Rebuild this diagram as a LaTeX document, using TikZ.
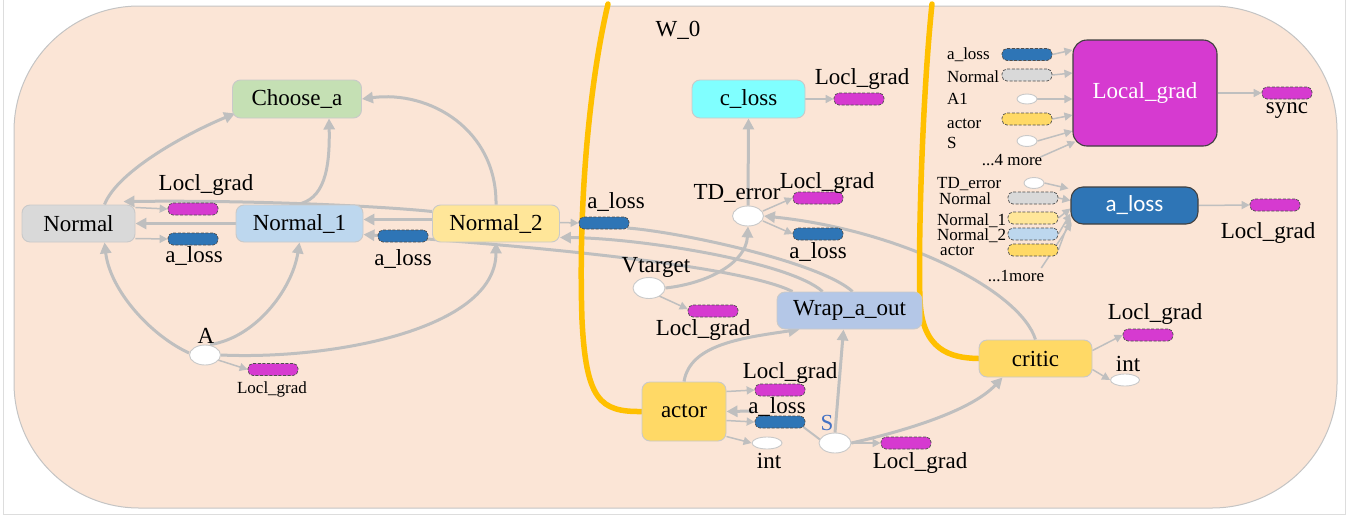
\documentclass[tikz,border=0pt]{standalone}
\usepackage{fontspec}
\setmainfont{Liberation Serif}
\newfontfamily\carlitofont{Carlito}
\usetikzlibrary{arrows.meta,shapes.geometric,calc}
\definecolor{clusterbg}{HTML}{FBE5D6}
\definecolor{frameg}{HTML}{DDDDDD}
\definecolor{clusterline}{HTML}{C4C4C4}
\definecolor{nodeline}{HTML}{C9C9C9}
\definecolor{darkline}{HTML}{404040}
\definecolor{pillline}{HTML}{4D4D4D}
\definecolor{conncol}{HTML}{BFBFBF}
\definecolor{cgreen}{HTML}{C5E0B4}
\definecolor{cgray}{HTML}{D9D9D9}
\definecolor{clightblue}{HTML}{BDD7EE}
\definecolor{clightyellow}{HTML}{FFE699}
\definecolor{ccyan}{HTML}{80FFFF}
\definecolor{cwrap}{HTML}{B4C7E7}
\definecolor{cgold}{HTML}{FFD966}
\definecolor{cmagenta}{HTML}{D63AD0}
\definecolor{cblue}{HTML}{2E75B6}
\definecolor{cyellowline}{HTML}{FFC000}
\definecolor{sblue}{HTML}{4472C4}
\newcommand\myBig{\fontsize{23}{26}\selectfont}
\newcommand\mySmall{\fontsize{17}{19}\selectfont}
\pgfdeclarelayer{bglayer}
\pgfdeclarelayer{midlayer}
\pgfsetlayers{bglayer,midlayer,main}
\tikzset{
  box/.style={draw=nodeline, line width=0.9pt, rounded corners=8pt, inner sep=0pt, font=\myBig},
  darkbox/.style={draw=darkline, line width=1.1pt, rounded corners=12pt, inner sep=0pt, font=\myBig, text=white},
  pill/.style={draw=pillline, line width=0.7pt, dash pattern=on 3pt off 1.6pt, rounded corners=5pt, minimum width=50pt, minimum height=12pt, inner sep=0pt},
  oval/.style={ellipse, draw=nodeline, line width=0.9pt, fill=white, inner sep=0pt},
  lbl/.style={inner sep=0pt, font=\myBig},
  lbls/.style={inner sep=0pt, font=\mySmall},
  conn/.style={draw=conncol, line width=3pt, -{Triangle[length=11pt,width=11pt]}},
  thinconn/.style={draw=conncol, line width=1.5pt, -{Triangle[length=8pt,width=8pt]}},
  plainconn/.style={draw=conncol, line width=2pt},
  yline/.style={draw=cyellowline, line width=5.5pt, line cap=round},
}
\begin{document}
\begin{tikzpicture}[x=1pt,y=-1pt]
\useasboundingbox (0,0) rectangle (1352,517);
% ---------- main nodes ----------
\node[box, fill=cgreen, minimum width=129pt, minimum height=38pt] (choose) at (297,99) {Choose\_a};
\node[box, fill=cgray, minimum width=113pt, minimum height=37pt] (normal) at (78.5,223.5) {Normal};
\node[box, fill=clightblue, minimum width=127pt, minimum height=37pt] (normal1) at (299.5,223.5) {Normal\_1};
\node[box, fill=clightyellow, minimum width=127pt, minimum height=37pt] (normal2) at (496,223.5) {Normal\_2};
\node[box, fill=ccyan, minimum width=113pt, minimum height=38pt] (closs) at (748.5,99) {c\_loss};
\node[box, fill=cwrap, minimum width=145pt, minimum height=37pt] (wrap) at (849.5,310.5) {Wrap\_a\_out};
\node[box, fill=cgold, minimum width=84pt, minimum height=59pt] (actor) at (684,411.5) {actor};
\node[box, fill=cgold, minimum width=113pt, minimum height=37pt] (critic) at (1035.5,358.5) {critic};
\node[darkbox, fill=cmagenta, minimum width=144pt, minimum height=106pt, rounded corners=14pt] (localgrad) at (1145,93) {Local\_grad};
\node[darkbox, fill=cblue, minimum width=127pt, minimum height=37pt, font=\carlitofont\myBig] (alossbig) at (1134.5,205.5) {a\_loss};
% ---------- ellipses ----------
\node[oval, minimum width=31pt, minimum height=20pt] (td) at (748,216) {};
\node[oval, minimum width=32pt, minimum height=21pt] (vtarget) at (649,288) {};
\node[oval, minimum width=31pt, minimum height=20pt] (A) at (205,355) {};
\node[oval, minimum width=32pt, minimum height=20pt] (S) at (835,443) {};
\node[oval, minimum width=30pt, minimum height=12pt] (int1) at (767,443) {};
\node[oval, minimum width=29pt, minimum height=12pt] (int2) at (1125,380) {};
\node[oval, minimum width=20pt, minimum height=10pt] (li3) at (1027,99) {};
\node[oval, minimum width=20pt, minimum height=11pt] (li5) at (1027,141) {};
\node[oval, minimum width=20pt, minimum height=11pt] (ai1) at (1034,183) {};
% ---------- pills ----------
\node[pill, fill=cmagenta] (p1) at (193,209) {};
\node[pill, fill=cblue] (p2) at (193,239) {};
\node[pill, fill=cblue] (p3) at (403,236) {};
\node[pill, fill=cblue] (p4) at (604,223) {};
\node[pill, fill=cmagenta] (p5) at (818,198) {};
\node[pill, fill=cblue] (p6) at (818,234) {};
\node[pill, fill=cmagenta] (p7) at (859,99) {};
\node[pill, fill=cmagenta] (p8) at (713,311) {};
\node[pill, fill=cmagenta] (p9) at (273,369.5) {};
\node[pill, fill=cmagenta] (p10) at (780,390) {};
\node[pill, fill=cblue] (p11) at (780,422) {};
\node[pill, fill=cmagenta] (p12) at (906,443) {};
\node[pill, fill=cmagenta] (p13) at (1148,335) {};
\node[pill, fill=cmagenta] (p14) at (1287,93) {};
\node[pill, fill=cmagenta] (p15) at (1275,205) {};
\node[pill, fill=cblue] (li1) at (1027,54.5) {};
\node[pill, fill=cgray] (li2) at (1027,75) {};
\node[pill, fill=cgold] (li4) at (1027,119) {};
\node[pill, fill=cgray] (ai2) at (1033,198) {};
\node[pill, fill=clightyellow] (ai3) at (1033,218) {};
\node[pill, fill=clightblue] (ai4) at (1033,234) {};
\node[pill, fill=cgold] (ai5) at (1033,250) {};
% ---------- labels ----------
\node[lbl] (lw0) at (678,30) {W\_0};
\node[lbl] (lp1) at (206,185) {Locl\_grad};
\node[lbl] (lp2) at (194,256) {a\_loss};
\node[lbl] (lp3) at (403,259) {a\_loss};
\node[lbl] (lp4) at (616,202) {a\_loss};
\node[lbl] (ltd) at (737,193) {TD\_error};
\node[lbl] (lp5) at (827,183) {Locl\_grad};
\node[lbl] (lp6) at (818,252) {a\_loss};
\node[lbl] (lp7) at (862,79) {Locl\_grad};
\node[lbl] (lvt) at (656,267) {Vtarget};
\node[lbl] (lp8) at (703,330) {Locl\_grad};
\node[lbl] (lA) at (206,336) {A};
\node[lbls] (lp9) at (272,389) {Locl\_grad};
\node[lbl] (lp10) at (790,373) {Locl\_grad};
\node[lbl] (lp11) at (777,407) {a\_loss};
\node[lbl, text=sblue] (lS) at (827,423) {S};
\node[lbl] (lint1) at (769,461) {int};
\node[lbl] (lp12) at (920,463) {Locl\_grad};
\node[lbl] (lp13) at (1155,314) {Locl\_grad};
\node[lbl] (lint2) at (1128,364) {int};
\node[lbl] (lsync) at (1287,111) {sync};
\node[lbl] (lp15) at (1268,233) {Locl\_grad};
\node[lbls, anchor=west] (lli1) at (947,55) {a\_loss};
\node[lbls, anchor=west] (lli2) at (947,77) {Normal};
\node[lbls, anchor=west] (lli3) at (947,99) {A1};
\node[lbls, anchor=west] (lli4) at (947,124) {actor};
\node[lbls, anchor=west] (lli5) at (947,143) {S};
\node[lbls] (lli6) at (1012,160) {...4 more};
\node[lbls, anchor=west] (lai1) at (937,184) {TD\_error};
\node[lbls, anchor=west] (lai2) at (939,199) {Normal};
\node[lbls, anchor=west] (lai3) at (937,221) {Normal\_1};
\node[lbls, anchor=west] (lai4) at (937,236) {Normal\_2};
\node[lbls, anchor=west] (lai5) at (940,251) {actor};
\node[lbls] (lai6) at (1016,276) {...1more};
\coordinate (actorin) at (753,411);
% ---------- background ----------
\begin{pgfonlayer}{bglayer}
\draw[frameg, line width=1pt] (3,0) -- (3,514.5) -- (1345.5,514.5) -- (1345.5,0);
\draw[fill=clusterbg, draw=clusterline, line width=1pt, rounded corners=125pt] (14,6) rectangle (1337,508);
% thick connectors
\draw[conn] ($(normal.north)+(26,0)$) .. controls (118,170) and (190,132) .. ($(choose.south west)+(3,-5)$);
\draw[conn] ($(normal1.north)+(-3,0)$) .. controls (324,200) and (330,170) .. ($(choose.south)+(32,0)$);
\draw[conn] (normal2.north) .. controls (497,130) and (430,90) .. (choose.east);
\draw[conn] ($(normal2.west)+(0,-12)$) .. controls (380,206) and (250,200) .. ($(normal.north east)+(-12,-3)$);
\draw[conn] (normal1.west) -- (normal.east);
\draw[conn] ($(normal2.west)+(0,-4)$) -- ($(normal1.east)+(0,-4)$);
\draw[conn] ($(wrap.north west)+(16,0)$) .. controls (740,265) and (520,245) .. ($(normal1.east)+(0,11)$);
\draw[conn] ($(wrap.north west)+(46,0)$) .. controls (790,262) and (640,238) .. ($(normal2.east)+(0,14)$);
\draw[plainconn, line width=3pt] ($(p4.east)+(-2,5)$) .. controls (680,232) and (820,262) .. ($(wrap.north west)+(76,0)$);
\draw[conn] ($(A.west)+(0,-2)$) .. controls (150,335) and (110,290) .. ($(normal.south)+(26,0)$);
\draw[conn] ($(A.north)+(5,0)$) .. controls (255,338) and (292,290) .. (normal1.south);
\draw[conn] (A.east) .. controls (330,360) and (496,330) .. (normal2.south);
\draw[conn] (td.north) -- (closs.south);
\draw[conn] (vtarget.east) .. controls (710,283) and (746,262) .. (td.south);
\draw[conn] (critic.north) .. controls (1020,290) and (900,230) .. (td.east);
\draw[conn] (actor.north) .. controls (690,345) and (740,338) .. ($(wrap.south west)+(23,0)$);
\draw[conn] (S.north) -- ($(wrap.south)+(-6,0)$);
\draw[conn] (S.east) .. controls (900,432) and (970,412) .. ($(critic.south west)+(24,0)$);
\draw[conn] (actorin) -- (actor.east);
% thin connectors
\draw[thinconn] ($(normal.east)+(0,-16)$) -- (p1.west);
\draw[thinconn] ($(normal.east)+(0,15)$) -- (p2.west);
\draw[thinconn] ($(normal2.east)+(0,-1)$) -- (p4.west);
\draw[thinconn] ($(A.east)+(-3,5)$) -- (p9.west);
\draw[thinconn] ($(td.east)+(-1,-5)$) -- (p5.west);
\draw[thinconn] ($(td.east)+(-1,5)$) -- (p6.west);
\draw[thinconn] ($(vtarget.south east)+(-2,0)$) -- ($(p8.west)+(0,-2)$);
\draw[thinconn] (closs.east) -- (p7.west);
\draw[thinconn] ($(actor.east)+(0,-20)$) -- (p10.west);
\draw[thinconn] ($(actor.east)+(0,9)$) -- (p11.west);
\draw[thinconn] ($(actor.east)+(0,25)$) -- (int1.west);
\draw[plainconn] ($(p11.east)+(-2,5)$) -- ($(S.west)+(2,-3)$);
\draw[thinconn] (S.east) -- (p12.west);
\draw[thinconn] ($(critic.east)+(0,-8)$) -- (p13.west);
\draw[thinconn] ($(critic.east)+(0,11)$) -- (int2.west);
\draw[thinconn] (localgrad.east) -- (p14.west);
\draw[thinconn] (alossbig.east) -- (p15.west);
\draw[thinconn] (li1.east) -- ($(localgrad.west)+(0,-43)$);
\draw[thinconn] (li2.east) -- ($(localgrad.west)+(0,-20)$);
\draw[thinconn] (li3.east) -- ($(localgrad.west)+(0,6)$);
\draw[thinconn] (li4.east) -- ($(localgrad.west)+(0,22)$);
\draw[thinconn] (li5.east) -- ($(localgrad.west)+(0,38)$);
\draw[thinconn] ($(lli6.east)+(-2,-3)$) -- ($(localgrad.south west)+(3,-5)$);
\draw[thinconn] (ai1.east) -- ($(alossbig.west)+(-2,-17)$);
\draw[thinconn] (ai2.east) -- ($(alossbig.west)+(0,-5)$);
\draw[thinconn] (ai3.east) -- ($(alossbig.west)+(0,3)$);
\draw[thinconn] (ai4.east) -- ($(alossbig.west)+(0,8)$);
\draw[thinconn] (ai5.east) -- ($(alossbig.west)+(0,12)$);
\draw[thinconn] ($(lai6.east)+(-3,-8)$) -- ($(alossbig.west)+(1,17)$);
\end{pgfonlayer}
% ---------- yellow separators ----------
\begin{pgfonlayer}{midlayer}
\draw[yline] (608,4) .. controls (590,80) and (578,200) .. (582,320) .. controls (586,400) and (600,412) .. (actor.west);
\draw[yline] (932,4) .. controls (922,100) and (918,250) .. (920,300) .. controls (922,350) and (950,358) .. (critic.west);
\end{pgfonlayer}
\end{tikzpicture}
\end{document}
